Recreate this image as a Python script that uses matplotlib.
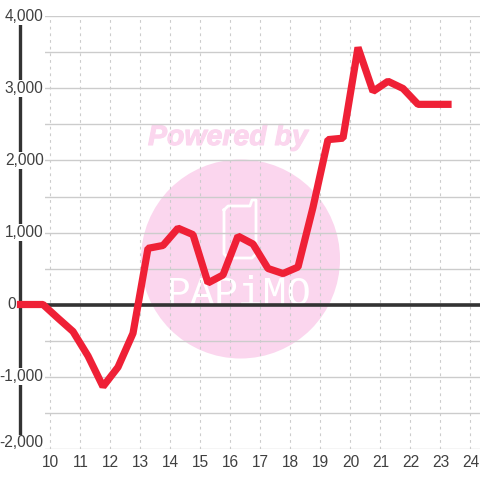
import matplotlib
matplotlib.use('Agg')
import matplotlib.pyplot as plt
import matplotlib.patheffects as pe
from matplotlib.patches import Circle
from matplotlib.transforms import IdentityTransform, blended_transform_factory

# Data
hours = [9.0, 9.75, 10.25, 10.75, 11.25, 11.75, 12.25, 12.75, 13.25, 13.75, 14.25, 14.75,
         15.25, 15.75, 16.25, 16.75, 17.25, 17.75, 18.25, 18.75, 19.25, 19.75, 20.25,
         20.75, 21.25, 21.75, 22.25, 22.75, 23.25]
values = [0, 0, -190, -375, -715, -1140, -870, -400, 780, 820, 1060, 970,
          300, 410, 950, 840, 500, 430, 520, 1350, 2290, 2310, 3570,
          2960, 3100, 3000, 2780, 2780, 2780]
x_ticks = [10, 11, 12, 13, 14, 15, 16, 17, 18, 19, 20, 21, 22, 23, 24]
y_grid = [-2000, -1500, -1000, -500, 0, 500, 1000, 1500, 2000, 2500, 3000, 3500, 4000]
y_labels = {4000: '4,000', 3000: '3,000', 2000: '2,000', 1000: '1,000',
            0: '0', -1000: '-1,000', -2000: '-2,000'}

DARK = '#333333'
TEXT = '#404040'
GRID = '#cccccc'
RED = '#EF2036'
PINK = '#FBD6EE'

plt.rcParams['font.family'] = ['Liberation Sans', 'DejaVu Sans']

fig = plt.figure(figsize=(4.8, 4.8), dpi=100, facecolor='white')
ax = fig.add_axes([45 / 480, 31.5 / 480, 435 / 480, 432 / 480])
ax.set_xlim(9.8167, 24.3167)
ax.set_ylim(-2000, 4000)
ax.patch.set_visible(False)
for s in ax.spines.values():
    s.set_visible(False)


def px(x, y):
    # picture pixels, origin top left
    return x, 480 - y


# Watermark
ax.add_patch(Circle(px(240.5, 259), 99.5, transform=IdentityTransform(), color=PINK,
                    lw=0, zorder=0.1, clip_on=False))
powered = ax.text(*px(148, 145), 'Powered by', transform=IdentityTransform(), color=PINK,
                  family='Liberation Sans', fontweight='bold', fontstyle='italic',
                  fontsize=20.5, zorder=0.1, clip_on=False)
powered.set_path_effects([pe.withStroke(linewidth=0.8, foreground=PINK)])
phone = [(224, 210), (228, 206), (250, 206), (252, 200), (256, 200), (256, 254),
         (252, 258), (228, 258), (224, 254), (224, 210)]
ax.plot([p[0] for p in phone], [480 - p[1] for p in phone], transform=IdentityTransform(),
        color='white', lw=2, zorder=0.15, clip_on=False, solid_joinstyle='round')
ax.text(*px(239, 305), 'PAPiMO', transform=IdentityTransform(), color='white',
        family='Liberation Mono', fontsize=29, ha='center', zorder=0.15, clip_on=False)

# Grid and axes
ax.set_axisbelow(True)
ax.set_xticks(x_ticks)
ax.set_yticks(y_grid)
ax.grid(axis='y', color=GRID, lw=1.0, ls='-')
ax.grid(axis='x', color=GRID, lw=0.8, ls=(0, (2.5, 3.5)))
ax.tick_params(axis='both', length=0)
ax.tick_params(axis='y', labelleft=False)
ax.tick_params(axis='x', labelsize=11.2, labelcolor=TEXT, pad=5)

ax.axhline(0, color=DARK, lw=2.6, zorder=1)
ax.plot([9, 9], [-2000, 4000], color=DARK, lw=2.4, clip_on=False, zorder=1,
        solid_capstyle='butt')

# y labels, white box cuts the axis line
trans = blended_transform_factory(fig.transFigure, ax.transData)
for v, lab in y_labels.items():
    right = 16.5 if v == 0 else 43.5
    yv = -1920 if v == -2000 else v
    ax.text(right / 480, yv, lab, transform=trans, ha='right', va='center', color=TEXT,
            fontsize=11.2, zorder=1.5, clip_on=False,
            bbox=dict(facecolor='white', edgecolor='none', pad=0.5))

ax.plot(hours, values, color=RED, lw=5.2, solid_joinstyle='bevel',
        solid_capstyle='projecting', clip_on=False, zorder=3)

fig.savefig('out.png', dpi=100)
